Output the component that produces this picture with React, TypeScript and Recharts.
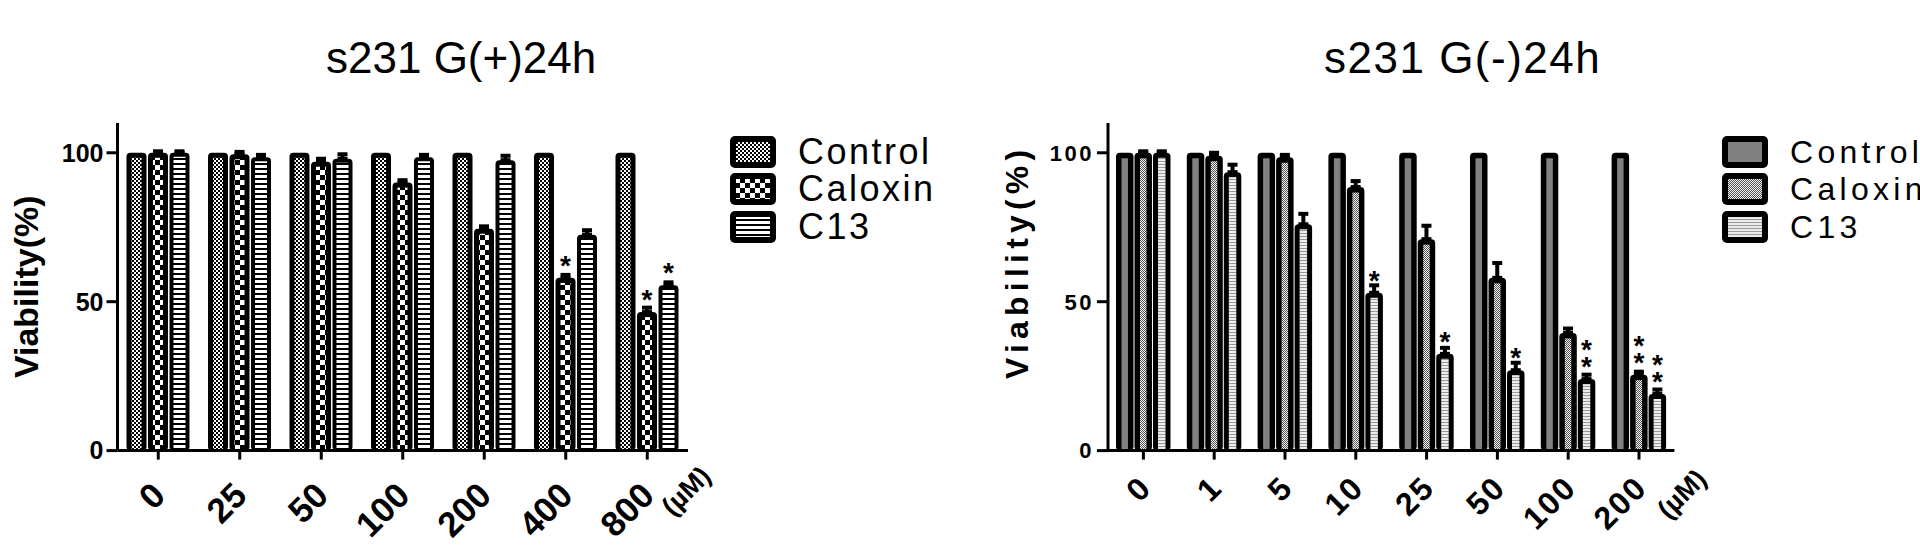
import React from 'react';
import { BarChart, Bar, XAxis, YAxis, Legend, ErrorBar, LabelList, Label } from 'recharts';

// ---------- Left panel: s231 G(+)24h ----------
const titleLeft = 's231 G(+)24h';
const categoriesLeft = ['0', '25', '50', '100', '200', '400', '800'];
const controlLeft = [100, 100, 100, 100, 100, 100, 100];
const caloxinLeft = [100, 99.5, 97, 90, 74.5, 58, 46.5];
const c13Left = [100, 98.5, 98, 98.5, 97.5, 72.5, 55.5];
const caloxinErrLeft = [0.5, 0.8, 1, 0.8, 0.8, 1, 1.5];
const c13ErrLeft = [0.5, 0.8, 1.5, 0.8, 1.5, 1.5, 1];
const caloxinSigLeft = ['', '', '', '', '', '*', '*'];
const c13SigLeft = ['', '', '', '', '', '', '*'];

// ---------- Right panel: s231 G(-)24h ----------
const titleRight = 's231 G(-)24h';
const categoriesRight = ['0', '1', '5', '10', '25', '50', '100', '200'];
const controlRight = [100, 100, 100, 100, 100, 100, 100, 100];
const caloxinRight = [100, 99, 98.5, 88.5, 71, 58, 39.5, 25.5];
const c13Right = [100, 93.5, 76, 53, 32.5, 27, 24, 19];
const caloxinErrRight = [0.5, 1, 0.8, 2, 4.5, 5, 1.5, 1];
const c13ErrRight = [0.5, 2.5, 3.5, 2.5, 2, 2.5, 1.5, 1.5];
const caloxinSigRight = ['', '', '', '', '', '', '', '**'];
const c13SigRight = ['', '', '', '*', '*', '*', '**', '**'];

const seriesKeys = ['control', 'caloxin', 'c13'];
const seriesNames = ['Control', 'Caloxin', 'C13'];
const yTicks = [0, 50, 100];
const yDomain = [0, 110];
const yTitle = 'Viability(%)';
const unitLabel = '(µM)';

const FONT = '"Liberation Sans", Arial, Helvetica, sans-serif';

const buildData = (
  cats: string[], ctrl: number[], cal: number[], c13: number[],
  calErr: number[], c13Err: number[], calSig: string[], c13Sig: string[]
) =>
  cats.map((c, i) => ({
    cat: c,
    control: ctrl[i],
    caloxin: cal[i],
    c13: c13[i],
    caloxinErr: [0, calErr[i]],
    c13Err: [0, c13Err[i]],
    caloxinSig: calSig[i],
    c13Sig: c13Sig[i],
  }));

const dataLeft = buildData(categoriesLeft, controlLeft, caloxinLeft, c13Left, caloxinErrLeft, c13ErrLeft, caloxinSigLeft, c13SigLeft);
const dataRight = buildData(categoriesRight, controlRight, caloxinRight, c13Right, caloxinErrRight, c13ErrRight, caloxinSigRight, c13SigRight);

const PatternDefs = () => (
  <svg width={0} height={0} style={{ position: 'absolute' }}>
    <defs>
      <pattern id="ctrlL" patternUnits="userSpaceOnUse" width={4} height={4}>
        <rect width={4} height={4} fill="#fff" />
        <rect x={0} y={0} width={2} height={2} fill="#000" />
        <rect x={2} y={2} width={2} height={2} fill="#000" />
      </pattern>
      <pattern id="calL" patternUnits="userSpaceOnUse" width={10} height={10}>
        <rect width={10} height={10} fill="#000" />
        <rect x={0} y={0} width={5} height={5} fill="#fff" />
        <rect x={5} y={5} width={5} height={5} fill="#fff" />
      </pattern>
      <pattern id="c13L" patternUnits="userSpaceOnUse" width={10} height={5}>
        <rect width={10} height={5} fill="#fff" />
        <rect x={0} y={3} width={10} height={2} fill="#000" />
      </pattern>
      <pattern id="ctrlR" patternUnits="userSpaceOnUse" width={4} height={4}>
        <rect width={4} height={4} fill="#808080" />
        <rect x={0} y={0} width={1} height={1} fill="#8c8c8c" />
      </pattern>
      <pattern id="calR" patternUnits="userSpaceOnUse" width={2} height={2}>
        <rect width={2} height={2} fill="#f2f2f2" />
        <rect x={0} y={0} width={1} height={1} fill="#555" />
        <rect x={1} y={1} width={1} height={1} fill="#555" />
      </pattern>
      <pattern id="c13R" patternUnits="userSpaceOnUse" width={4} height={3}>
        <rect width={4} height={3} fill="#ececec" />
        <rect x={0} y={2} width={4} height={1} fill="#9a9a9a" />
      </pattern>
    </defs>
  </svg>
);

const PatternBar = (props: any) => {
  const { x, y, width, height, pat, inset, rx } = props;
  if (!(height > 0)) return null;
  return (
    <g>
      <rect x={x} y={y} width={width} height={height} rx={rx} ry={rx} fill="#000" />
      <rect
        x={x + inset}
        y={y + inset}
        width={Math.max(0, width - 2 * inset)}
        height={Math.max(0, height - inset)}
        fill={`url(#${pat})`}
      />
    </g>
  );
};

const StarLabel = (props: any) => {
  const vb = props.viewBox || props;
  const { value, size, step, weight, base } = props;
  if (!value) return null;
  const cx = vb.x + vb.width / 2;
  return (
    <g>
      {String(value)
        .split('')
        .map((s: string, k: number) => (
          <text
            key={k}
            x={cx}
            y={vb.y - base - k * step}
            textAnchor="middle"
            fontSize={size}
            fontWeight={weight}
            fontFamily={FONT}
            fill="#000"
          >
            {s}
          </text>
        ))}
    </g>
  );
};

const XTick = (props: any) => {
  const { x, y, payload, size, dx, dy, last, ux, uy, usize, spacing } = props;
  return (
    <g transform={`translate(${x},${y})`}>
      <text
        transform={`translate(${dx},${dy}) rotate(-45)`}
        textAnchor="end"
        fontSize={size}
        fontWeight="bold"
        fontFamily={FONT}
        letterSpacing={spacing}
        fill="#000"
      >
        {payload.value}
      </text>
      {payload.value === last && (
        <text
          transform={`translate(${ux},${uy}) rotate(-45)`}
          textAnchor="end"
          fontSize={usize}
          fontWeight="bold"
          fontFamily={FONT}
          fill="#000"
        >
          {unitLabel}
        </text>
      )}
    </g>
  );
};

const YTitle = (props: any) => {
  const vb = props.viewBox;
  const cx = vb.x + props.cxOff;
  const cy = vb.y + vb.height / 2 + props.cyOff;
  return (
    <text
      x={cx}
      y={cy}
      transform={`rotate(-90 ${cx} ${cy})`}
      textAnchor="middle"
      dominantBaseline="central"
      fontSize={props.size}
      fontWeight="bold"
      fontFamily={FONT}
      letterSpacing={props.spacing}
      fill="#000"
    >
      {yTitle}
    </text>
  );
};

const makeLegend = (pats: string[], fontSize: number, spacing: number, gap: number) => (props: any) => {
  const payload = [...(props.payload || [])].sort(
    (a: any, b: any) => seriesKeys.indexOf(a.dataKey) - seriesKeys.indexOf(b.dataKey)
  );
  return (
    <div style={{ display: 'flex', flexDirection: 'column' }}>
      {payload.map((entry: any, i: number) => (
        <div key={i} style={{ display: 'flex', alignItems: 'center', height: 37.5 }}>
          <svg width={46} height={32} style={{ flex: 'none' }}>
            <rect x={0} y={0} width={46} height={32} rx={5} fill="#000" />
            <rect x={6} y={6} width={34} height={20} fill={`url(#${pats[seriesKeys.indexOf(entry.dataKey)]})`} />
          </svg>
          <span
            style={{
              marginLeft: gap,
              fontFamily: FONT,
              fontSize,
              letterSpacing: spacing,
              color: '#000',
              lineHeight: 1,
              whiteSpace: 'nowrap',
            }}
          >
            {entry.value}
          </span>
        </div>
      ))}
    </div>
  );
};

const axisStroke = { stroke: '#000', strokeWidth: 3 };

type PanelProps = {
  data: any[];
  pats: string[];
  insets: number[];
  barSize: number;
  barGap: number;
  yAxisWidth: number;
  marginRight: number;
  xTick: any;
  yTickStyle: any;
  yTitleProps: any;
  legendPos: { left: number; top: number };
  legendFont: number;
  legendSpacing: number;
  legendGap: number;
  starSize: number;
  starWeight: string;
};

const Panel = (p: PanelProps) => (
  <BarChart
    width={960}
    height={555}
    data={p.data}
    margin={{ top: 123, right: p.marginRight, bottom: 0, left: 0 }}
    barSize={p.barSize}
    barGap={p.barGap}
  >
    <XAxis
      dataKey="cat"
      height={104.4}
      axisLine={axisStroke}
      tickLine={axisStroke}
      tickSize={9}
      interval={0}
      tick={p.xTick}
    />
    <YAxis
      width={p.yAxisWidth}
      domain={yDomain}
      ticks={yTicks}
      axisLine={axisStroke}
      tickLine={axisStroke}
      tickSize={11}
      tickMargin={3}
      tick={p.yTickStyle}
    >
      <Label content={(lp: any) => <YTitle {...lp} {...p.yTitleProps} />} />
    </YAxis>
    <Legend
      layout="vertical"
      align="center"
      verticalAlign="middle"
      itemSorter={null as any}
      content={makeLegend(p.pats, p.legendFont, p.legendSpacing, p.legendGap)}
      wrapperStyle={{ position: 'absolute', left: p.legendPos.left, top: p.legendPos.top, width: 240 }}
    />
    <Bar
      dataKey="control"
      name={seriesNames[0]}
      fill="#000"
      isAnimationActive={false}
      shape={(sp: any) => <PatternBar {...sp} pat={p.pats[0]} inset={p.insets[0]} rx={4} />}
    />
    <Bar
      dataKey="caloxin"
      name={seriesNames[1]}
      fill="#000"
      isAnimationActive={false}
      shape={(sp: any) => <PatternBar {...sp} pat={p.pats[1]} inset={p.insets[1]} rx={4} />}
    >
      <ErrorBar dataKey="caloxinErr" direction="y" width={5} stroke="#000" strokeWidth={4} isAnimationActive={false} />
      <LabelList
        dataKey="caloxinSig"
        content={(lp: any) => <StarLabel {...lp} size={p.starSize} step={17} weight={p.starWeight} base={3} />}
      />
    </Bar>
    <Bar
      dataKey="c13"
      name={seriesNames[2]}
      fill="#000"
      isAnimationActive={false}
      shape={(sp: any) => <PatternBar {...sp} pat={p.pats[2]} inset={p.insets[2]} rx={4} />}
    >
      <ErrorBar dataKey="c13Err" direction="y" width={5} stroke="#000" strokeWidth={4} isAnimationActive={false} />
      <LabelList
        dataKey="c13Sig"
        content={(lp: any) => <StarLabel {...lp} size={p.starSize} step={17} weight={p.starWeight} base={3} />}
      />
    </Bar>
  </BarChart>
);

const titleStyle = (left: number, spacing: number): React.CSSProperties => ({
  position: 'absolute',
  left,
  top: 36,
  fontFamily: FONT,
  fontSize: 44,
  lineHeight: 1,
  letterSpacing: spacing,
  color: '#000',
  whiteSpace: 'nowrap',
});

export default function App() {
  return (
    <div
      style={{
        position: 'absolute',
        left: 0,
        top: 0,
        width: 1920,
        height: 555,
        background: '#fff',
        overflow: 'hidden',
      }}
    >
      <PatternDefs />
      <div style={titleStyle(326, 0)}>{titleLeft}</div>
      <div style={titleStyle(1324, 1.5)}>{titleRight}</div>
      <div style={{ position: 'absolute', left: 0, top: 0 }}>
        <Panel
          data={dataLeft}
          pats={['ctrlL', 'calL', 'c13L']}
          insets={[5, 5, 4]}
          barSize={20}
          barGap={1.5}
          yAxisWidth={117.5}
          marginRight={272}
          xTick={(tp: any) => (
            <XTick {...tp} size={35} dx={9} dy={36} last="800" ux={65} uy={16} usize={27} spacing={0} />
          )}
          yTickStyle={{ fontSize: 25, fontWeight: 'bold', fill: '#000', fontFamily: FONT }}
          yTitleProps={{ cxOff: 26, cyOff: 0, size: 34, spacing: 0 }}
          legendPos={{ left: 730, top: 133 }}
          legendFont={36}
          legendSpacing={2.5}
          legendGap={22}
          starSize={28}
          starWeight="bold"
        />
      </div>
      <div style={{ position: 'absolute', left: 960, top: 0 }}>
        <Panel
          data={dataRight}
          pats={['ctrlR', 'calR', 'c13R']}
          insets={[5.5, 5.5, 5]}
          barSize={17.5}
          barGap={1}
          yAxisWidth={148}
          marginRight={245.6}
          xTick={(tp: any) => (
            <XTick {...tp} size={32} dx={10} dy={28} last="200" ux={69} uy={19} usize={27} spacing={2} />
          )}
          yTickStyle={{ fontSize: 22, fontWeight: 'bold', fill: '#000', fontFamily: FONT, letterSpacing: 2.5 }}
          yTitleProps={{ cxOff: 57, cyOff: -25, size: 32, spacing: 5.2 }}
          legendPos={{ left: 762, top: 133 }}
          legendFont={32}
          legendSpacing={4.3}
          legendGap={22}
          starSize={28}
          starWeight="bold"
        />
      </div>
    </div>
  );
}
